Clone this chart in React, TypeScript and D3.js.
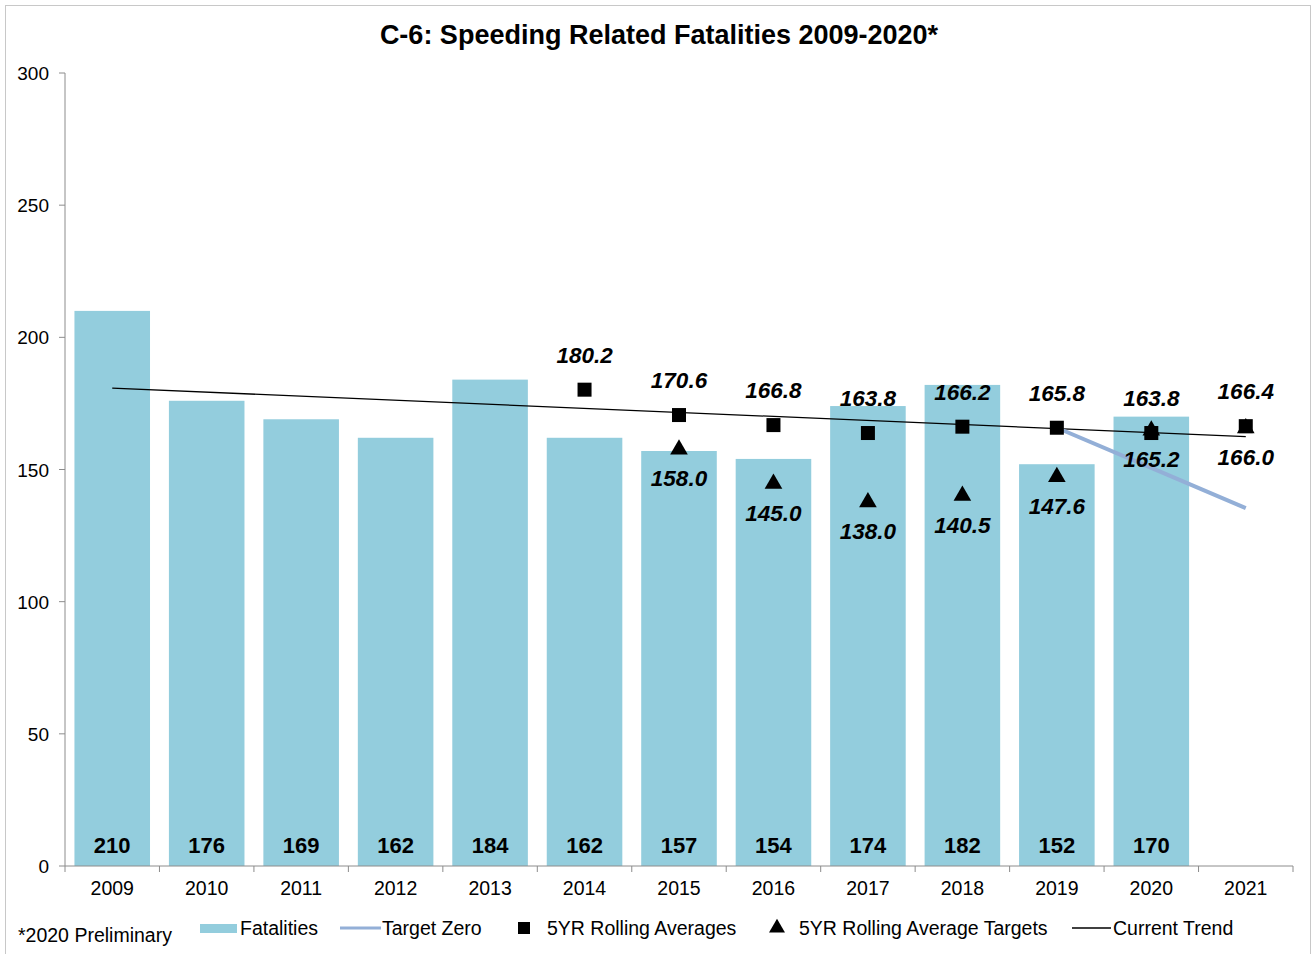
import { useEffect, useRef } from "react"
import * as d3 from "d3"

const years = ["2009", "2010", "2011", "2012", "2013", "2014", "2015", "2016", "2017", "2018", "2019", "2020", "2021"]
const fatalities = [210, 176, 169, 162, 184, 162, 157, 154, 174, 182, 152, 170]
const rollingYears = ["2014", "2015", "2016", "2017", "2018", "2019", "2020", "2021"]
const rollingAverages = [180.2, 170.6, 166.8, 163.8, 166.2, 165.8, 163.8, 166.4]
const targetYears = ["2015", "2016", "2017", "2018", "2019", "2020", "2021"]
const rollingTargets = [158.0, 145.0, 138.0, 140.5, 147.6, 165.2, 166.0]
const targetZeroYears = ["2019", "2020", "2021"]
const targetZero = [165.8, 150.6, 135.4]
const trendYears = ["2009", "2021"]
const trendValues = [180.8, 162.4]
const yTicks = [0, 50, 100, 150, 200, 250, 300]

const W = 1313
const H = 954
const FONT = "'Liberation Sans', Arial, sans-serif"

export default function App() {
	const ref = useRef<SVGSVGElement>(null)

	useEffect(() => {
		const svg = d3.select(ref.current)
		svg.selectAll("*").remove()

		const margin = { top: 73, right: 20, bottom: 88, left: 65 }
		const plotW = W - margin.left - margin.right
		const plotH = H - margin.top - margin.bottom

		svg.append("rect")
			.attr("x", 5.5).attr("y", 5.5)
			.attr("width", W - 8).attr("height", H)
			.attr("fill", "white").attr("stroke", "#c8c8c8")

		svg.append("text")
			.attr("x", 659).attr("y", 44)
			.attr("text-anchor", "middle")
			.attr("font-family", FONT).attr("font-weight", "bold").attr("font-size", 27)
			.text("C-6: Speeding Related Fatalities 2009-2020*")

		const g = svg.append("g").attr("transform", `translate(${margin.left},${margin.top})`)

		const x = d3.scaleBand().domain(years).range([0, plotW]).paddingInner(0.2).paddingOuter(0.1)
		const xc = (d: string) => (x(d) as number) + x.bandwidth() / 2
		const y = d3.scaleLinear().domain([0, 300]).range([plotH, 0])

		// bars
		g.selectAll("rect.bar")
			.data(fatalities)
			.enter()
			.append("rect")
			.attr("class", "bar")
			.attr("x", (d, i) => x(years[i]) as number)
			.attr("y", (d) => y(d))
			.attr("width", x.bandwidth())
			.attr("height", (d) => plotH - y(d))
			.attr("fill", "#93cddd")

		g.selectAll("text.barlabel")
			.data(fatalities)
			.enter()
			.append("text")
			.attr("class", "barlabel")
			.attr("x", (d, i) => xc(years[i]))
			.attr("y", plotH - 13)
			.attr("text-anchor", "middle")
			.attr("font-family", FONT).attr("font-weight", "bold").attr("font-size", 22)
			.text((d) => d)

		// axes
		const step = plotW / years.length
		const axisColor = "#8c8c8c"
		g.append("line")
			.attr("x1", 0).attr("x2", 0).attr("y1", 0).attr("y2", plotH)
			.attr("stroke", axisColor)
		g.append("line")
			.attr("x1", 0).attr("x2", plotW).attr("y1", plotH).attr("y2", plotH)
			.attr("stroke", axisColor)

		yTicks.forEach((t) => {
			g.append("line")
				.attr("x1", -6).attr("x2", 0).attr("y1", y(t)).attr("y2", y(t))
				.attr("stroke", axisColor)
			g.append("text")
				.attr("x", -16).attr("y", y(t) + 7)
				.attr("text-anchor", "end")
				.attr("font-family", FONT).attr("font-size", 19)
				.text(t)
		})

		d3.range(years.length + 1).forEach((i) => {
			g.append("line")
				.attr("x1", i * step).attr("x2", i * step)
				.attr("y1", plotH).attr("y2", plotH + 6)
				.attr("stroke", axisColor)
		})

		years.forEach((yr) => {
			g.append("text")
				.attr("x", xc(yr)).attr("y", plotH + 29)
				.attr("text-anchor", "middle")
				.attr("font-family", FONT).attr("font-size", 19.5)
				.text(yr)
		})

		// current trend
		const line = d3.line<[number, number]>().x((d) => d[0]).y((d) => d[1])
		g.append("path")
			.attr("d", line(trendYears.map((yr, i) => [xc(yr), y(trendValues[i])])))
			.attr("fill", "none").attr("stroke", "black").attr("stroke-width", 1.3)

		// target zero
		g.append("path")
			.attr("d", line(targetZeroYears.map((yr, i) => [xc(yr), y(targetZero[i])])))
			.attr("fill", "none").attr("stroke", "#93afd7").attr("stroke-width", 4)

		// triangles
		const tri = d3.symbol().type(d3.symbolTriangle).size(135)
		targetYears.forEach((yr, i) => {
			g.append("path")
				.attr("d", tri())
				.attr("transform", `translate(${xc(yr)},${y(rollingTargets[i]) + 1})`)
				.attr("fill", "black")
			g.append("text")
				.attr("x", xc(yr)).attr("y", y(rollingTargets[i]) + 38)
				.attr("text-anchor", "middle")
				.attr("font-family", FONT).attr("font-weight", "bold").attr("font-style", "italic")
				.attr("font-size", 22.5)
				.text(rollingTargets[i].toFixed(1))
		})

		// squares
		rollingYears.forEach((yr, i) => {
			g.append("rect")
				.attr("x", xc(yr) - 7).attr("y", y(rollingAverages[i]) - 7)
				.attr("width", 14).attr("height", 14)
				.attr("fill", "black")
			g.append("text")
				.attr("x", xc(yr)).attr("y", y(rollingAverages[i]) - 27)
				.attr("text-anchor", "middle")
				.attr("font-family", FONT).attr("font-weight", "bold").attr("font-style", "italic")
				.attr("font-size", 22.5)
				.text(rollingAverages[i].toFixed(1))
		})

		// legend
		const ly = 928
		const lg = svg.append("g").attr("font-family", FONT).attr("font-size", 19.5)
		lg.append("text").attr("x", 18).attr("y", ly + 14).text("*2020 Preliminary")
		lg.append("rect").attr("x", 200).attr("y", ly - 4).attr("width", 37).attr("height", 9).attr("fill", "#93cddd")
		lg.append("text").attr("x", 240).attr("y", ly + 7).text("Fatalities")
		lg.append("line").attr("x1", 340).attr("x2", 381).attr("y1", ly).attr("y2", ly)
			.attr("stroke", "#93afd7").attr("stroke-width", 3)
		lg.append("text").attr("x", 382).attr("y", ly + 7).text("Target Zero")
		lg.append("rect").attr("x", 518).attr("y", ly - 6).attr("width", 12).attr("height", 12).attr("fill", "black")
		lg.append("text").attr("x", 547).attr("y", ly + 7).text("5YR Rolling Averages")
		lg.append("path").attr("d", d3.symbol().type(d3.symbolTriangle).size(110)())
			.attr("transform", `translate(777,${ly})`).attr("fill", "black")
		lg.append("text").attr("x", 799).attr("y", ly + 7).text("5YR Rolling Average Targets")
		lg.append("line").attr("x1", 1072).attr("x2", 1111).attr("y1", ly).attr("y2", ly)
			.attr("stroke", "black").attr("stroke-width", 1.3)
		lg.append("text").attr("x", 1113).attr("y", ly + 7).text("Current Trend")
	}, [])

	return (
		<svg
			ref={ref}
			width={W}
			height={H}
			style={{ position: "absolute", left: 0, top: 0, display: "block" }}
		></svg>
	)
}
